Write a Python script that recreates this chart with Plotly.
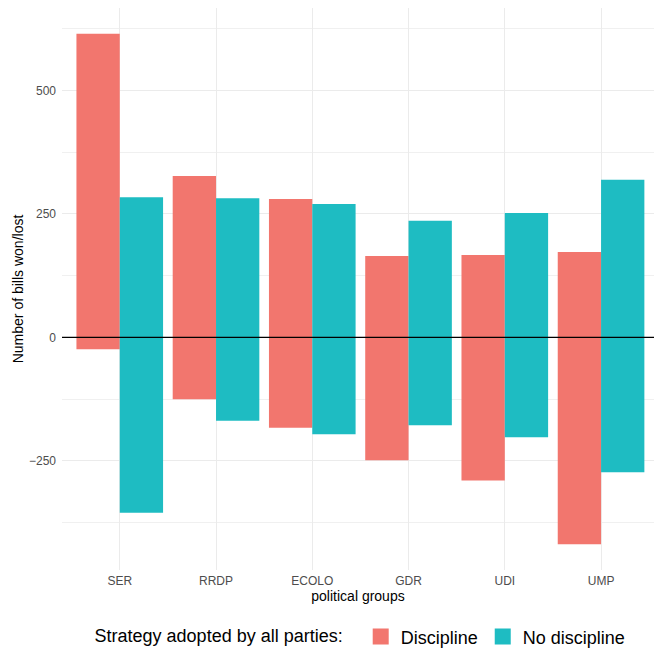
import plotly.graph_objects as go

groups = ["SER", "RRDP", "ECOLO", "GDR", "UDI", "UMP"]
strategies = ["Discipline", "No discipline"]
won_discipline = [615, 327, 280, 165, 167, 173]
lost_discipline = [-24, -125, -183, -249, -290, -419]
won_nodiscipline = [284, 282, 270, 236, 252, 319]
lost_nodiscipline = [-355, -169, -196, -178, -202, -273]
colors = ["#F2766E", "#1EBCC2"]

series = [
    (strategies[0], won_discipline, lost_discipline, colors[0]),
    (strategies[1], won_nodiscipline, lost_nodiscipline, colors[1]),
]

fig = go.Figure()
for name, won, lost, col in series:
    fig.add_trace(go.Bar(
        x=groups,
        y=[w - l for w, l in zip(won, lost)],
        base=lost,
        name=name,
        marker=dict(color=col, line=dict(width=0)),
        showlegend=False,
        offsetgroup=name,
    ))
for name, won, lost, col in series:
    fig.add_trace(go.Scatter(
        x=[None], y=[None], mode="markers", name=name,
        marker=dict(symbol="square", size=22, color=col),
        showlegend=True,
    ))

fig.add_shape(type="line", xref="paper", yref="y", x0=0, x1=1, y0=0, y1=0,
              line=dict(color="black", width=1.1), layer="above")

fig.update_layout(
    width=654, height=650,
    margin=dict(l=62, r=0, t=8, b=80, autoexpand=False),
    paper_bgcolor="white", plot_bgcolor="white",
    font=dict(family="Liberation Sans, Arial, sans-serif", color="black"),
    barmode="group", bargap=0.1, bargroupgap=0,
    showlegend=True,
    legend=dict(
        orientation="h", x=0.506, xanchor="center", y=-0.119, yanchor="middle",
        font=dict(size=18, color="black"),
        title=dict(text="Strategy adopted by all parties:  ", side="left",
                   font=dict(size=18, color="black")),
        itemsizing="trace",
    ),
)
fig.update_xaxes(
    range=[-0.6, 5.55], showgrid=True, gridcolor="#EBEBEB", gridwidth=1.1,
    zeroline=False, showline=False, ticks="", ticklabelstandoff=2,
    tickfont=dict(size=12, color="#4D4D4D"),
    title=dict(text="political groups", font=dict(size=14, color="black"), standoff=3),
)
fig.update_yaxes(
    range=[-471, 667], tick0=0, dtick=250, showgrid=True, gridcolor="#EBEBEB", gridwidth=1.1,
    minor=dict(dtick=125, tick0=0, showgrid=True, gridcolor="#F0F0F0", gridwidth=0.7),
    zeroline=False, showline=False, ticks="", ticklabelstandoff=5,
    tickfont=dict(size=12, color="#4D4D4D"),
    title=dict(text="Number of bills won/lost", font=dict(size=14, color="black"), standoff=2),
)

fig.write_html("out.html", config={"displayModeBar": False},
               post_script="document.body.style.margin='0';")
